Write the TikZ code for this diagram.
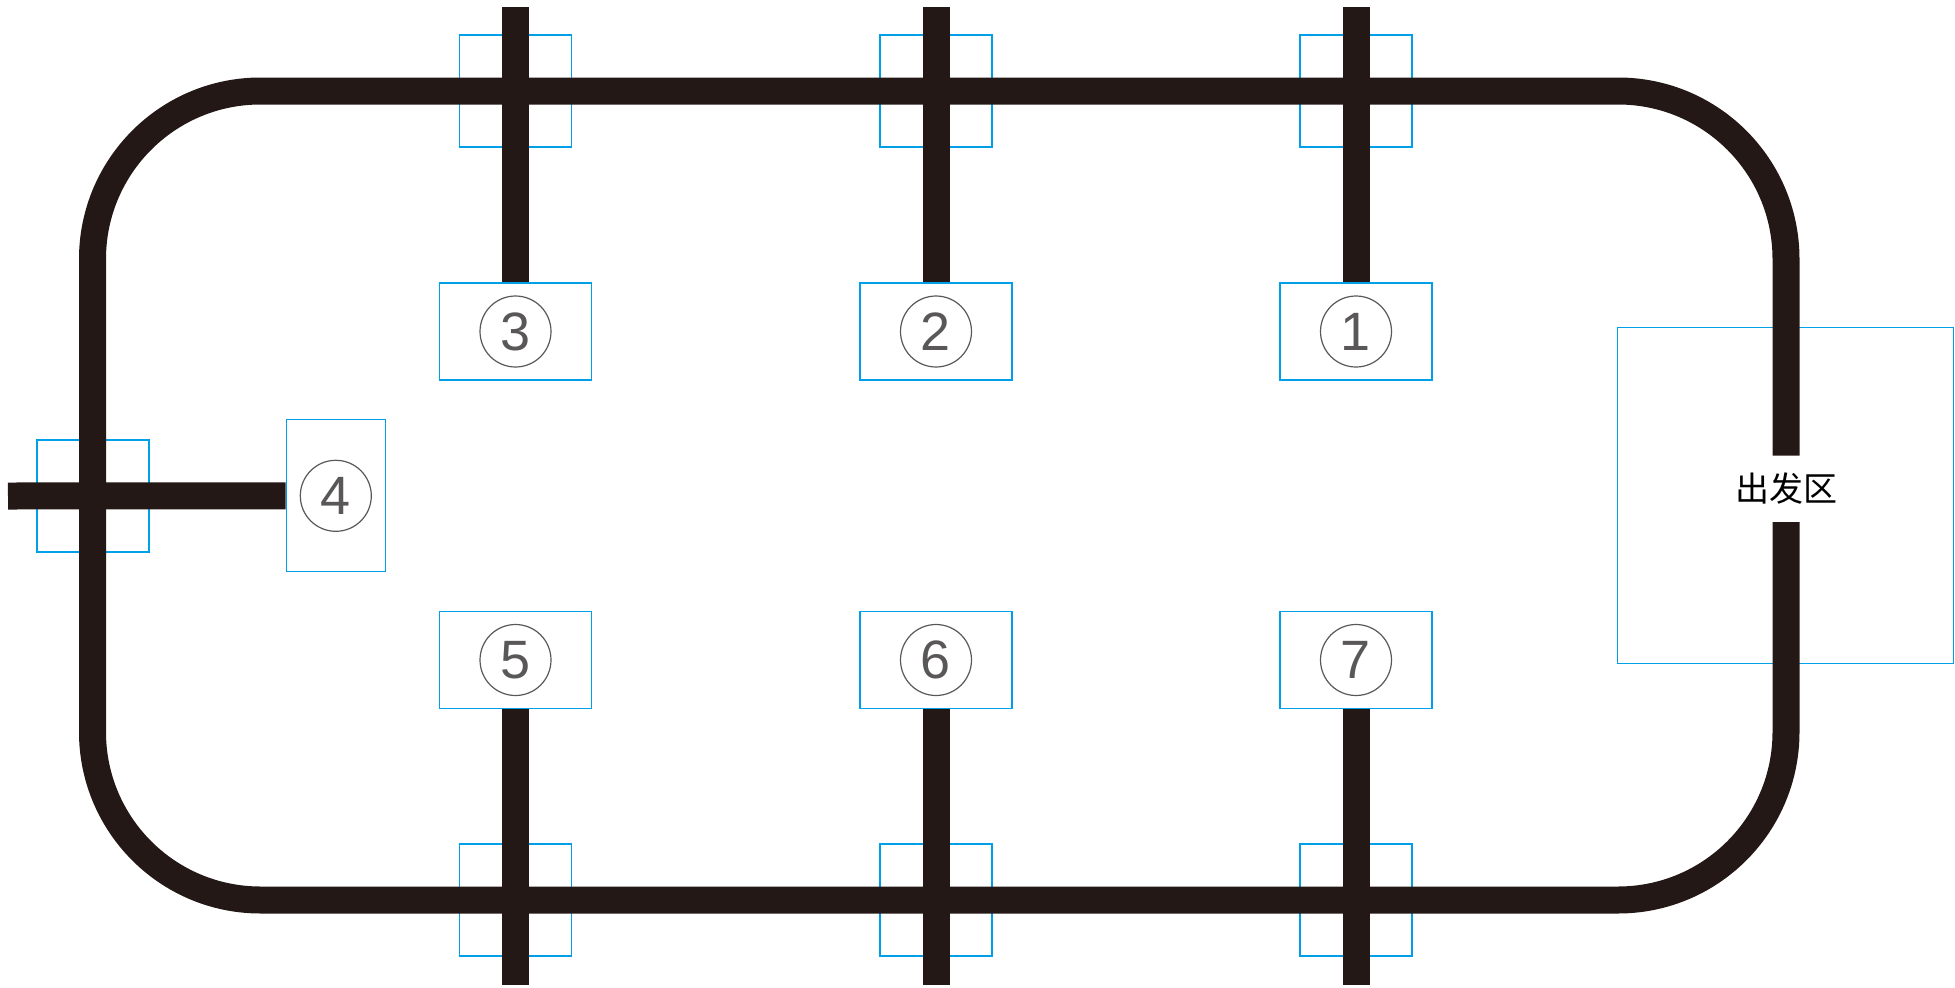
\documentclass[tikz,border=0pt]{standalone}
\usepackage{fontspec}
\setmainfont{Liberation Sans}
\newfontfamily\cjk{Noto Sans CJK SC}
\definecolor{track}{HTML}{231815}
\definecolor{zone}{HTML}{00A0E9}
\definecolor{numgray}{HTML}{595757}
\begin{document}
\begin{tikzpicture}[x=1pt,y=-1pt,
  tk/.style={line width=27pt, draw=track},
  sq/.style={draw=zone, line width=1.3pt, minimum size=112pt, inner sep=0pt},
  sbox/.style={draw=zone, line width=1.3pt, minimum width=152pt, minimum height=97pt, inner sep=0pt},
  num/.style={circle, draw=numgray, line width=1.2pt, minimum size=71pt, inner sep=0pt, text=numgray, font=\fontsize{54}{54}\selectfont}]
\useasboundingbox (0,0) rectangle (1955,988);
% blue squares at crossings
\node[sq] (s3) at (515.5,91) {};
\node[sq] (s2) at (936,91) {};
\node[sq] (s1) at (1356,91) {};
\node[sq] (s5) at (515.5,900) {};
\node[sq] (s6) at (936,900) {};
\node[sq] (s7) at (1356,900) {};
\node[sq] (s4) at (93,496) {};
% start zone
\node[draw=zone, line width=1.3pt, minimum width=336pt, minimum height=336pt, inner sep=0pt] (start) at (1785.8,495.7) {};
% track loop
\draw[tk, rounded corners=168pt] (1786,522) -- (1786,900) -- (92.5,900) -- (92.5,91) -- (1786,91) -- (1786,455.7);
% target boxes
\node[sbox] (b3) at (515.5,331.5) {};
\node[sbox] (b2) at (936,331.5) {};
\node[sbox] (b1) at (1356,331.5) {};
\node[sbox] (b5) at (515.5,660) {};
\node[sbox] (b6) at (936,660) {};
\node[sbox] (b7) at (1356,660) {};
\node[draw=zone, line width=1.3pt, minimum width=99pt, minimum height=152pt, inner sep=0pt] (b4) at (335.8,495.8) {};
% bar ends
\coordinate (t3) at (515.5,7);
\coordinate (t2) at (936,7);
\coordinate (t1) at (1356,7);
\coordinate (e5) at (515.5,985);
\coordinate (e6) at (936,985);
\coordinate (e7) at (1356,985);
\coordinate (e4) at (8,496);
% bars
\draw[tk] (b3.north) -- (t3);
\draw[tk] (b2.north) -- (t2);
\draw[tk] (b1.north) -- (t1);
\draw[tk] (b5.south) -- (e5);
\draw[tk] (b6.south) -- (e6);
\draw[tk] (b7.south) -- (e7);
\draw[tk] (b4.west) -- (e4);
% numbers
\node[num] (n1) at (b1) {1};
\node[num] (n2) at (b2) {2};
\node[num] (n3) at (b3) {3};
\node[num] (n4) at (b4) {4};
\node[num] (n5) at (b5) {5};
\node[num] (n6) at (b6) {6};
\node[num] (n7) at (b7) {7};
\node[font=\cjk\fontsize{34}{34}\selectfont, inner sep=0pt] (lbl) at (1786,489) {出发区};
\end{tikzpicture}
\end{document}
